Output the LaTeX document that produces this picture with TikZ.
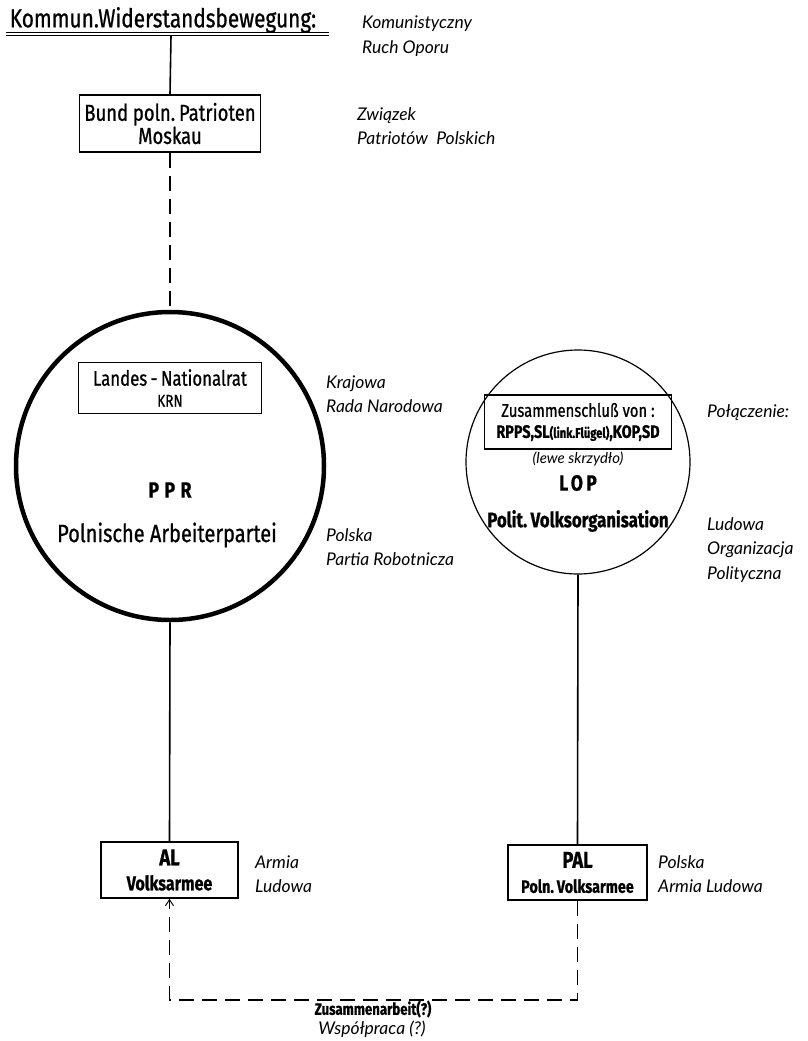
\documentclass[tikz,border=0pt]{standalone}
\usepackage{fontspec}
\usetikzlibrary{arrows.meta}
\setmainfont{Lato}
\newfontfamily\stencil[FakeStretch=0.8, FakeBold=0.8]{Fira Sans}
\newfontfamily\polfont{Lato}
\tikzstyle{block} = [rectangle, draw, line width=1.6pt, inner sep=0pt, align=center, font=\stencil]
\tikzstyle{orgtext} = [inner sep=0pt, align=center, font=\stencil]
\tikzstyle{trans} = [anchor=west, inner sep=0pt, align=left, font=\polfont\itshape\fontsize{17.5}{24.5}\selectfont]
\tikzset{link/.style = {line width=1.6pt},
  coop/.style = {line width=1.2pt, dash pattern=on 15pt off 8pt, -{Straight Barb[length=6pt, width=8pt, line width=1pt]}}
}

\begin{document}
\begin{tikzpicture}[x=1pt, y=-1pt]
  \useasboundingbox (0,0) rectangle (807,1041);
  % title
  \node[orgtext, font=\stencil\fontsize{26}{26}\selectfont] (title) at (163,20) {Kommun.Widerstandsbewegung:};
  \coordinate (ulL) at (6,34);
  \coordinate (ulR) at (329,34);
  \coordinate (ulM) at (171,36);
  \draw[double, double distance=1.5pt, line width=1pt] (ulL) -- (ulR);
  \node[trans] (t-title) at (362,36) {Komunistyczny\\Ruch Oporu};

  % Moskau
  \node[block, minimum width=181, minimum height=57, font=\stencil\fontsize{23}{17}\selectfont] (bund) at (170,123.5) {Bund poln.\,Patrioten\\Moskau};
  \node[trans] (t-bund) at (357,126) {Związek\\Patriotów~~Polskich};

  % PPR
  \node[circle, draw, line width=4.5pt, minimum size=308] (ppr) at (170,466) {};
  \node[block, line width=1.2pt, minimum width=183, minimum height=51, font=\stencil\fontsize{21}{21}\selectfont] (krn) at (170,388) {Landes\,-\,Nationalrat\\{\fontsize{17}{17}\selectfont KRN}};
  \node[orgtext, font=\stencil\bfseries\fontsize{22}{22}\selectfont\addfontfeature{LetterSpace=25}] (ppr-short) at (170,490) {PPR};
  \node[orgtext, font=\stencil\fontsize{25}{25}\selectfont] (ppr-long) at (167,535) {Polnische Arbeiterpartei};
  \node[trans] (t-krn) at (326,394) {Krajowa\\Rada Narodowa};
  \node[trans] (t-ppr) at (326,547) {Polska\\Partia Robotnicza};

  % LOP
  \node[circle, draw, line width=1.2pt, minimum size=224] (lop) at (578,462) {};
  \node[block, line width=1.2pt, minimum width=187, minimum height=54, font=\stencil\fontsize{18.5}{21}\selectfont] (union) at (578,422) {Zusammenschluß von :\\{\bfseries\fontsize{18}{18}\selectfont RPPS,SL{\fontsize{14}{14}\selectfont(link.Flügel)},KOP,SD}};
  \node[orgtext, font=\polfont\itshape\fontsize{15}{15}\selectfont] (wing) at (578,459) {(lewe skrzydło)};
  \node[orgtext, font=\stencil\bfseries\fontsize{22}{22}\selectfont\addfontfeature{LetterSpace=15}] (lop-short) at (578,483) {LOP};
  \node[orgtext, font=\stencil\bfseries\fontsize{21}{21}\selectfont] (lop-long) at (578,521) {Polit.\,Volksorganisation};
  \node[trans] (t-union) at (707,413) {Połączenie:};
  \node[trans] (t-lop) at (707,550) {Ludowa\\Organizacja\\Polityczna};

  % armies
  \node[block, minimum width=137, minimum height=56, font=\stencil\bfseries\fontsize{23}{25}\selectfont] (al) at (169.5,870) {AL\\{\fontsize{20}{20}\selectfont Volksarmee}};
  \node[block, minimum width=139, minimum height=55, font=\stencil\bfseries\fontsize{23}{25}\selectfont] (pal) at (577.5,872.5) {PAL\\{\fontsize{18}{18}\selectfont Poln.\,Volksarmee}};
  \node[trans] (t-al) at (255,874) {Armia\\Ludowa};
  \node[trans] (t-pal) at (658,874) {Polska\\Armia Ludowa};

  % edges
  \draw[link] (ulM) -- (bund.north);
  \draw[link, dash pattern=on 15pt off 8pt] (bund.south) -- (ppr.north);
  \draw[link] (ppr.south) -- (al.north);
  \draw[link] (lop.south) -- (pal.north);

  % cooperation
  \coordinate (cornerR) at (577.5,1000);
  \coordinate (cornerL) at (169.5,1000);
  \draw[coop] (pal.south) -- (cornerR) -- (cornerL) -- (al.south);
  \node[orgtext, font=\stencil\bfseries\fontsize{16.5}{16.5}\selectfont] (coop-de) at (373,1009) {Zusammenarbeit(?)};
  \node[orgtext, font=\polfont\itshape\fontsize{17.5}{17.5}\selectfont] (coop-pl) at (372,1029) {Współpraca (?)};
\end{tikzpicture}
\end{document}
